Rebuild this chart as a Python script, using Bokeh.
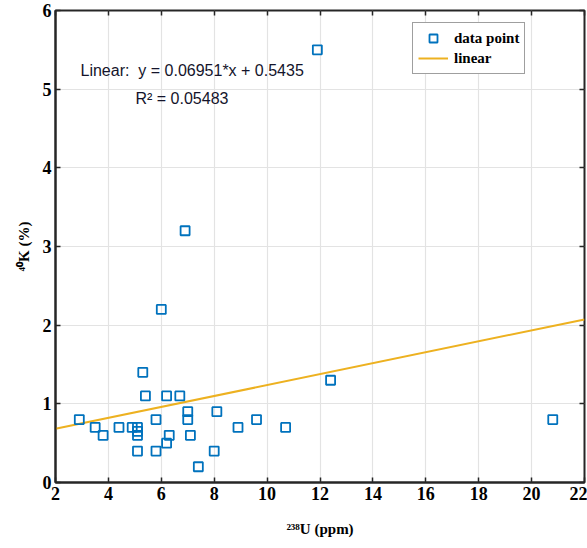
from bokeh.plotting import figure
from bokeh.models import (Range1d, LinearAxis, FixedTicker, Label, Legend,
                          LegendItem, ColumnDataSource)
from bokeh.embed import file_html
from bokeh.resources import INLINE

# 238U (ppm) against 40K (%) for each sample
u238 = [2.9, 3.5, 3.8, 4.4, 4.9, 5.1, 5.1, 5.1, 5.1, 5.3, 5.4, 5.8, 5.8, 6.0,
        6.2, 6.2, 6.3, 6.7, 6.9, 7.0, 7.0, 7.1, 7.4, 8.0, 8.1, 8.9, 9.6, 10.7,
        11.9, 12.4, 20.8]
k40 = [0.8, 0.7, 0.6, 0.7, 0.7, 0.7, 0.6, 0.65, 0.4, 1.4, 1.1, 0.8, 0.4, 2.2,
       1.1, 0.5, 0.6, 1.1, 3.2, 0.9, 0.8, 0.6, 0.2, 0.4, 0.9, 0.7, 0.8, 0.7,
       5.5, 1.3, 0.8]

# fitted line  y = slope*x + intercept
slope = 0.06951
intercept = 0.5435
r_squared = 0.05483
fit_x = [2, 22]
fit_y = [slope * x + intercept for x in fit_x]

x_ticks = [2, 4, 6, 8, 10, 12, 14, 16, 18, 20, 22]
y_ticks = [0, 1, 2, 3, 4, 5, 6]

BLUE = "#0072BD"
ORANGE = "#EDB120"
AX = "#262626"
SERIF = "Liberation Serif"

p = figure(width=587, height=548, output_backend="svg", toolbar_location=None,
           x_range=Range1d(2, 22), y_range=Range1d(0, 6),
           min_border_left=55, min_border_right=3, min_border_top=10,
           min_border_bottom=66, background_fill_color="white",
           border_fill_color="white")

p.outline_line_color = AX
p.outline_line_width = 2

for ax in (p.xaxis[0], p.yaxis[0]):
    ax.axis_line_color = AX
    ax.axis_line_width = 2
    ax.major_tick_in = 5
    ax.major_tick_out = 0
    ax.minor_tick_in = 0
    ax.minor_tick_out = 0
    ax.major_tick_line_color = AX
    ax.major_tick_line_width = 1.5
    ax.major_label_text_font = SERIF
    ax.major_label_text_font_style = "bold"
    ax.major_label_text_font_size = "18px"
    ax.major_label_text_color = "black"

p.xaxis[0].ticker = FixedTicker(ticks=x_ticks)
p.yaxis[0].ticker = FixedTicker(ticks=y_ticks)
p.xaxis[0].major_label_standoff = 4
p.yaxis[0].major_label_standoff = 4

p.xaxis[0].axis_label = "²³⁸U (ppm)"
p.yaxis[0].axis_label = "⁴⁰K (%)"
for ax in (p.xaxis[0], p.yaxis[0]):
    ax.axis_label_text_font = SERIF
    ax.axis_label_text_font_style = "bold"
    ax.axis_label_text_font_size = "15px"
    ax.axis_label_text_color = "black"
p.xaxis[0].axis_label_standoff = 18
p.yaxis[0].axis_label_standoff = 8

# tick marks on the top and right edges of the box (no labels)
top = LinearAxis(ticker=FixedTicker(ticks=x_ticks))
right = LinearAxis(ticker=FixedTicker(ticks=y_ticks))
for ax in (top, right):
    ax.axis_line_color = None
    ax.major_tick_in = 5
    ax.major_tick_out = 0
    ax.minor_tick_in = 0
    ax.minor_tick_out = 0
    ax.major_tick_line_color = AX
    ax.major_tick_line_width = 1.5
    ax.major_label_text_font_size = "0px"
    ax.major_label_standoff = 0
p.add_layout(top, "above")
p.add_layout(right, "right")

p.xgrid.ticker = FixedTicker(ticks=x_ticks)
p.ygrid.ticker = FixedTicker(ticks=y_ticks)
p.grid.grid_line_color = "#e3e3e3"
p.grid.grid_line_width = 1.2

line_r = p.line(fit_x, fit_y, line_color=ORANGE, line_width=2)
src = ColumnDataSource(dict(x=u238, y=k40))
pts = p.scatter("x", "y", source=src, marker="square", size=9,
                fill_color=None, line_color=BLUE, line_width=1.8)

legend = Legend(items=[LegendItem(label="data point", renderers=[pts]),
                       LegendItem(label="linear", renderers=[line_r])],
                location=(357, 408), orientation="vertical")
legend.label_text_font = SERIF
legend.label_text_font_style = "bold"
legend.label_text_font_size = "15px"
legend.label_text_color = "black"
legend.border_line_color = "#404040"
legend.border_line_width = 1.5
legend.background_fill_alpha = 1
legend.glyph_width = 30
legend.glyph_height = 20
legend.label_height = 20
legend.spacing = 0
legend.padding = 5
legend.margin = 0
legend.label_standoff = 6
p.add_layout(legend, "center")

eq = Label(x=25, y=412, x_units="screen", y_units="screen",
           text="Linear:\u00a0 y = %.5f*x + %.4f" % (slope, intercept),
           text_font="Liberation Sans", text_font_size="16px",
           text_color="#14142b", text_align="left", text_baseline="middle")
r2 = Label(x=80, y=384, x_units="screen", y_units="screen",
           text="R² = %.5f" % r_squared,
           text_font="Liberation Sans", text_font_size="16px",
           text_color="#14142b", text_align="left", text_baseline="middle")
p.add_layout(eq)
p.add_layout(r2)

open("out.html", "w").write(file_html(p, INLINE))
